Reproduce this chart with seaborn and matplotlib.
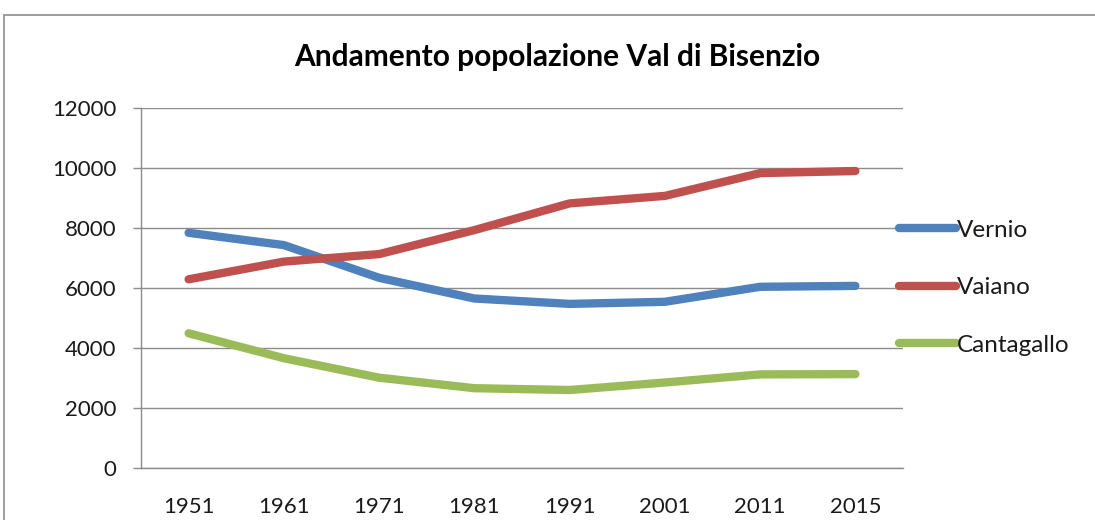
import matplotlib
matplotlib.use("Agg")
import matplotlib.pyplot as plt
import seaborn as sns
import pandas as pd
from matplotlib.lines import Line2D
from matplotlib.patches import Rectangle

years = ["1951", "1961", "1971", "1981", "1991", "2001", "2011", "2015"]
vernio = [7840, 7430, 6340, 5650, 5470, 5540, 6040, 6070]
vaiano = [6290, 6880, 7130, 7930, 8820, 9070, 9830, 9900]
cantagallo = [4490, 3660, 3010, 2660, 2600, 2850, 3120, 3130]
series_names = ["Vernio", "Vaiano", "Cantagallo"]
colors = ["#4F81BD", "#C0504D", "#9BBB59"]
y_ticks = [0, 2000, 4000, 6000, 8000, 10000, 12000]

sns.set_theme(style="white")
plt.rcParams['font.family'] = ['Lato', 'DejaVu Sans']

df = pd.DataFrame({
    "Anno": years * 3,
    "Popolazione": vernio + vaiano + cantagallo,
    "Comune": [n for n in series_names for _ in years],
})

fig = plt.figure(figsize=(10.95, 5.2), dpi=100)
ax = fig.add_axes([141 / 1095, 1 - 468 / 520, 762 / 1095, 360 / 520])

grid_c = "#8C8C8C"
sns.lineplot(data=df, x="Anno", y="Popolazione", hue="Comune", palette=colors,
             hue_order=series_names, sort=False, linewidth=6, ax=ax, legend=False,
             solid_capstyle="round", solid_joinstyle="round", zorder=3)

ax.set_xlim(-0.5, len(years) - 0.5)
ax.set_ylim(0, 12000)
ax.set_yticks(y_ticks)
ax.set_yticklabels([str(v) for v in y_ticks])
ax.yaxis.grid(True, color=grid_c, linewidth=1.0)
ax.set_axisbelow(True)
ax.set_xlabel("")
ax.set_ylabel("")

for s in ["top", "right"]:
    ax.spines[s].set_visible(False)
for s in ["left", "bottom"]:
    ax.spines[s].set_color(grid_c)
    ax.spines[s].set_linewidth(1.0)

# Excel-style: ticks between categories on x
ax.set_xticks(range(len(years)))
ax.set_xticklabels(years)
ax.set_xticks([i - 0.5 for i in range(len(years) + 1)], minor=True)
ax.tick_params(axis="x", which="major", length=0, pad=21, labelsize=16, colors="#1a1a1a")
ax.tick_params(axis="x", which="minor", length=5.5, width=1.0, color=grid_c, direction="out")
ax.tick_params(axis="y", length=5.8, width=1.0, color=grid_c, pad=12, labelsize=16,
               labelcolor="#1a1a1a", left=True, direction="out")

fig.text(557 / 1095, 1 - 57 / 520, "Andamento popolazione Val di Bisenzio",
         ha="center", va="center", fontsize=21.5, fontweight="bold", color="black")

handles = [Line2D([0], [0], color=c, lw=6, solid_capstyle="round") for c in colors]
leg = fig.legend(handles, series_names, loc="upper left",
                 bbox_to_anchor=(877 / 1095, 1 - 198 / 520), frameon=False,
                 fontsize=17.5, handlelength=2.35, handletextpad=0.05, labelspacing=1.5)
for t in leg.get_texts():
    t.set_color("#1a1a1a")

# outer chart border (cropped on the right and bottom)
fig.patches.append(Rectangle((4 / 1095, -0.1), 1.2, (520 - 15) / 520 + 0.1,
                             transform=fig.transFigure, fill=False,
                             edgecolor="#8C8C8C", linewidth=1.2))

fig.savefig("out.png", dpi=100)
